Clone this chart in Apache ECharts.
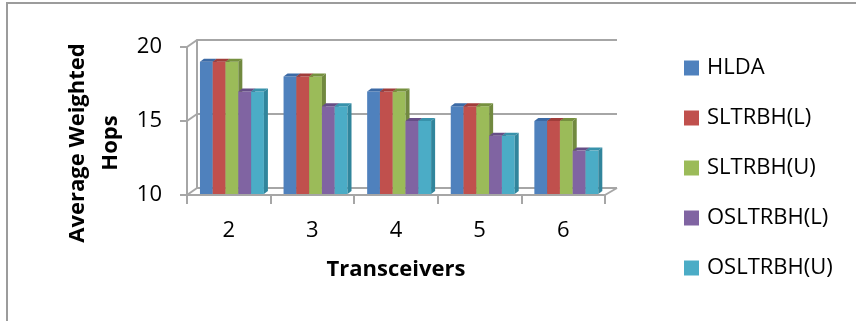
<!DOCTYPE html>
<html>
<head>
<meta charset="utf-8">
<script src="https://cdn.jsdelivr.net/npm/echarts@6/dist/echarts.min.js"></script>
<style>
html, body { margin: 0; padding: 0; background: #fff; }
#chart { width: 856px; height: 321px; }
</style>
</head>
<body>
<div id="chart"></div>
<script>
// Average weighted hops per number of transceivers
const categories = ['2', '3', '4', '5', '6'];
const seriesNames = ['HLDA', 'SLTRBH(L)', 'SLTRBH(U)', 'OSLTRBH(L)', 'OSLTRBH(U)'];
const hlda     = [19, 18, 17, 16, 15];
const sltrbhL  = [19, 18, 17, 16, 15];
const sltrbhU  = [19, 18, 17, 16, 15];
const osltrbhL = [17, 16, 15, 14, 13];
const osltrbhU = [17, 16, 15, 14, 13];
const yMin = 10, yMax = 20, yStep = 5;
const yTicks = [10, 15, 20];

const seriesValues = [hlda, sltrbhL, sltrbhU, osltrbhL, osltrbhU];

// face colours for the pseudo-3D columns
const palette = [
  { front: '#4F81BD', top: '#3C6AA5', side: '#385D8A' },
  { front: '#C0504D', top: '#A03D3A', side: '#8C3836' },
  { front: '#9BBB59', top: '#76903F', side: '#71893F' },
  { front: '#8064A2', top: '#664E86', side: '#5C4776' },
  { front: '#4BACC6', top: '#3892AB', side: '#31859C' }
];

// front plane of the plot and the back wall, offset by the 3D depth
const FRONT = { left: 187, top: 47, width: 418, height: 148 };
const DEPTH = { dx: 10, dy: -7 };
const BACK = { left: FRONT.left + DEPTH.dx, top: FRONT.top + DEPTH.dy, width: FRONT.width + 2, height: FRONT.height };
const W = 856, H = 321;
const LINE = '#A6A6A6';
const FONT = '"Open Sans", "Noto Sans", sans-serif';

const BAR_FRAC = 0.153;   // column width as a share of the category band
const LEFT_FRAC = 0.155;  // gap before the first column
const BAR_DX = 4, BAR_DY = -3;

function makeRender(k) {
  return function (params, api) {
    const c = api.value(0);
    const v = api.value(1);
    const p = api.coord([c, v]);
    const b = api.coord([c, yMin]);
    const band = api.size([1, 0])[0];
    const w = band * BAR_FRAC;
    const x0 = p[0] - band / 2 + band * LEFT_FRAC + k * w;
    const yT = p[1];
    const yB = b[1] - 1;
    const pal = palette[k];
    return {
      type: 'group',
      children: [
        { type: 'rect', shape: { x: x0, y: yT, width: w, height: yB - yT }, style: { fill: pal.front }, z2: k * 3 },
        { type: 'polygon', shape: { points: [[x0, yT], [x0 + BAR_DX, yT + BAR_DY], [x0 + w + BAR_DX, yT + BAR_DY], [x0 + w, yT]] }, style: { fill: pal.top }, z2: k * 3 + 1 },
        { type: 'polygon', shape: { points: [[x0 + w, yT], [x0 + w + BAR_DX, yT + BAR_DY], [x0 + w + BAR_DX, yB + BAR_DY], [x0 + w, yB]] }, style: { fill: pal.side }, z2: k * 3 + 2 }
      ]
    };
  };
}

const chart = echarts.init(document.getElementById('chart'), null, { renderer: 'canvas' });

const series = seriesNames.map(function (name, k) {
  return {
    name: name,
    type: 'custom',
    xAxisIndex: 0,
    yAxisIndex: 0,
    renderItem: makeRender(k),
    itemStyle: { color: palette[k].front },
    encode: { x: 0, y: 1 },
    data: seriesValues[k].map(function (v, i) { return [i, v]; }),
    z: 3
  };
});

chart.setOption({
  animation: false,
  backgroundColor: '#fff',
  grid: [
    { left: FRONT.left, top: FRONT.top, width: FRONT.width, height: FRONT.height },
    { left: BACK.left, top: BACK.top, width: BACK.width, height: BACK.height }
  ],
  xAxis: [
    {
      type: 'category', gridIndex: 0, data: categories,
      axisLine: { show: true, lineStyle: { color: LINE, width: 2 } },
      axisTick: { show: true, interval: 0, length: 9, lineStyle: { color: LINE, width: 2 } },
      axisLabel: { color: '#000', fontSize: 22, fontFamily: FONT, margin: 25 },
      splitLine: { show: false }
    },
    { type: 'category', gridIndex: 1, data: categories, show: false }
  ],
  yAxis: [
    {
      type: 'value', gridIndex: 0, min: yMin, max: yMax, interval: yStep,
      axisLine: { show: true, lineStyle: { color: LINE, width: 2 } },
      axisTick: { show: true, length: 7, lineStyle: { color: LINE, width: 2 } },
      axisLabel: { color: '#000', fontSize: 22, fontFamily: FONT, margin: 25, padding: [5, 0, 0, 0] },
      splitLine: { show: false }
    },
    {
      type: 'value', gridIndex: 1, min: yMin, max: yMax, interval: yStep,
      axisLine: { show: true, lineStyle: { color: LINE, width: 2 } },
      axisTick: { show: false },
      axisLabel: { show: false },
      splitLine: { show: true, lineStyle: { color: LINE, width: 2 } }
    }
  ],
  legend: {
    orient: 'vertical',
    left: 684, top: 57,
    padding: 0,
    icon: 'rect',
    itemWidth: 15, itemHeight: 15,
    itemGap: 28,
    data: seriesNames,
    textStyle: { color: '#000', fontSize: 22, fontFamily: FONT, lineHeight: 20, padding: [0, 0, 0, 3] }
  },
  series: series
});

// walls: side-wall diagonals at each tick, floor edges, outer frame and titles
const graphics = [];
yTicks.forEach(function (t) {
  const yf = chart.convertToPixel({ yAxisIndex: 0 }, t);
  const yb = chart.convertToPixel({ yAxisIndex: 1 }, t);
  graphics.push({
    type: 'line', z: 1, silent: true,
    shape: { x1: FRONT.left, y1: yf, x2: BACK.left, y2: yb },
    style: { stroke: LINE, lineWidth: 2 }
  });
});
const yFloorF = chart.convertToPixel({ yAxisIndex: 0 }, yMin);
const yFloorB = chart.convertToPixel({ yAxisIndex: 1 }, yMin);
graphics.push({
  type: 'line', z: 1, silent: true,
  shape: { x1: FRONT.left + FRONT.width, y1: yFloorF, x2: BACK.left + BACK.width, y2: yFloorB },
  style: { stroke: LINE, lineWidth: 2 }
});
graphics.push({
  type: 'rect', z: 0, silent: true,
  shape: { x: 7, y: 3, width: W + 50, height: H + 50 },
  style: { fill: null, stroke: '#9C9C9C', lineWidth: 2 }
});
graphics.push({
  type: 'text', z: 5, x: 396, y: 270,
  style: { text: 'Transceivers', fill: '#000', font: 'bold 22px ' + FONT, textAlign: 'center', textVerticalAlign: 'middle' }
});
graphics.push({
  type: 'text', z: 5, x: 94, y: 143, rotation: Math.PI / 2,
  style: { text: 'Average Weighted\nHops', fill: '#000', font: 'bold 22px ' + FONT, lineHeight: 33, textAlign: 'center', textVerticalAlign: 'middle' }
});

chart.setOption({ graphic: graphics });
</script>
</body>
</html>
